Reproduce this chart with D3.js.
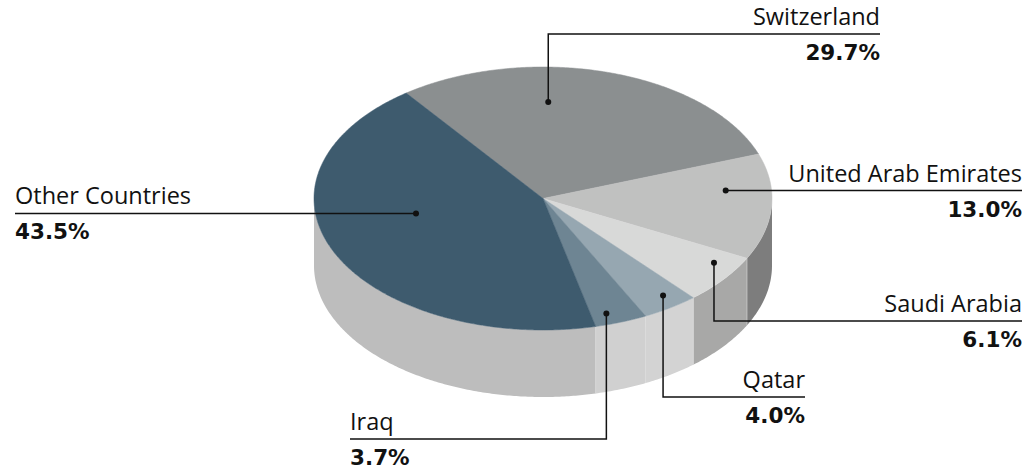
<!DOCTYPE html>
<html>
<head>
<meta charset="utf-8">
<script src="https://cdn.jsdelivr.net/npm/d3@7"></script>
<style>
  html, body { margin: 0; padding: 0; background: #fff; }
  svg { display: block; }
  text { fill: #111; }
  .name { font-family: "Open Sans", "Noto Sans", sans-serif; font-size: 23.5px; }
  .val { font-family: "DejaVu Sans", sans-serif; font-size: 21.5px; font-weight: 700; }
</style>
</head>
<body>
<svg id="chart" width="1035" height="473"></svg>
<script>
// Share of total by destination country
const categories = ["Switzerland", "United Arab Emirates", "Saudi Arabia", "Qatar", "Iraq", "Other Countries"];
const values = [29.7, 13.0, 6.1, 4.0, 3.7, 43.5];
const valueLabels = ["29.7%", "13.0%", "6.1%", "4.0%", "3.7%", "43.5%"];

const topColors  = ["#8b8f90", "#c0c1c0", "#d8d9d8", "#96a7b1", "#6e8593", "#3e5b6e"];
const sideColors = ["#858585", "#7d7d7d", "#a8a8a7", "#d3d3d3", "#d0d0d0", "#bdbdbd"];

const svg = d3.select("#chart");

// Ellipse geometry of the tilted disc
const cx = 543, cy = 198.5, rx = 229, ry = 131.5, depth = 67;
const sx = d3.scaleLinear().domain([-1, 1]).range([cx - rx, cx + rx]);
const sy = d3.scaleLinear().domain([-1, 1]).range([cy + ry, cy - ry]);

const startDeg = -36.7;
const pie = d3.pie().sort(null).value(d => d)
  .startAngle(startDeg * Math.PI / 180)
  .endAngle((startDeg + 360) * Math.PI / 180);
const arcs = pie(values);

// point on the disc at angle a (clockwise from 12 o'clock), radius fraction r, dropped by dy
function pt(a, r, dy = 0) {
  return [sx(r * Math.sin(a)), sy(r * Math.cos(a)) + dy];
}
function arcPoints(a0, a1, dy) {
  const n = Math.max(2, Math.ceil((a1 - a0) / 0.01));
  return d3.range(n + 1).map(i => pt(a0 + (a1 - a0) * i / n, 1, dy));
}

// outer walls: only the front half (between 3 and 9 o'clock) is visible
const gSide = svg.append("g");
arcs.forEach((d, i) => {
  const a0 = Math.max(d.startAngle, Math.PI / 2);
  const a1 = Math.min(d.endAngle, 3 * Math.PI / 2);
  if (a1 <= a0) return;
  const top = arcPoints(a0, a1, 0);
  const bottom = arcPoints(a0, a1, depth).reverse();
  gSide.append("path")
    .attr("d", "M" + top.concat(bottom).map(p => p.join(",")).join("L") + "Z")
    .attr("fill", sideColors[i]);
});
// faint seams between adjoining walls
arcs.forEach((d, i) => {
  const a = d.startAngle;
  if (a > Math.PI / 2 && a < 3 * Math.PI / 2) {
    const p = pt(a, 1, 0);
    gSide.append("line")
      .attr("x1", p[0]).attr("y1", p[1]).attr("x2", p[0]).attr("y2", p[1] + depth)
      .attr("stroke", "#dcdcdc").attr("stroke-width", 0.6);
  }
});

// top faces
const gTop = svg.append("g");
arcs.forEach((d, i) => {
  const pts = [[cx, cy]].concat(arcPoints(d.startAngle, d.endAngle, 0));
  gTop.append("path")
    .attr("d", "M" + pts.map(p => p.join(",")).join("L") + "Z")
    .attr("fill", topColors[i])
    .attr("stroke", topColors[i]).attr("stroke-width", 0.5);
});

// callouts: anchor inside slice (t = position along slice, r = radius), elbow and label end
const callouts = [
  { t: 0.36, r: 0.734, lineY: 34,  endX: 880,  anchor: "end" },
  { t: 0.33, r: 0.80,  lineY: null, endX: 1022, anchor: "end" },
  { t: 0.28, r: 0.892, lineY: 321, endX: 1022, anchor: "end" },
  { t: 0.39, r: 0.905, lineY: 397, endX: 805,  anchor: "end" },
  { t: 0.68, r: 0.917, lineY: 439, endX: 350,  anchor: "start" },
  { t: 0.586, r: 0.566, lineY: null, endX: 15, anchor: "start" }
];

const gLab = svg.append("g");
arcs.forEach((d, i) => {
  const c = callouts[i];
  const a = d.startAngle + (d.endAngle - d.startAngle) * c.t;
  const p = pt(a, c.r, 0);
  const ly = c.lineY == null ? p[1] : c.lineY;
  const path = d3.path();
  path.moveTo(p[0], p[1]);
  path.lineTo(p[0], ly);
  path.lineTo(c.endX, ly);
  gLab.append("path").attr("d", path.toString())
    .attr("fill", "none").attr("stroke", "#111").attr("stroke-width", 1.5);
  gLab.append("circle").attr("cx", p[0]).attr("cy", p[1]).attr("r", 3).attr("fill", "#111");
  gLab.append("text").attr("class", "name")
    .attr("x", c.endX).attr("y", ly - 9)
    .attr("text-anchor", c.anchor)
    .text(categories[i]);
  gLab.append("text").attr("class", "val")
    .attr("x", c.endX).attr("y", ly + 26)
    .attr("text-anchor", c.anchor)
    .text(valueLabels[i]);
});
</script>
</body>
</html>
